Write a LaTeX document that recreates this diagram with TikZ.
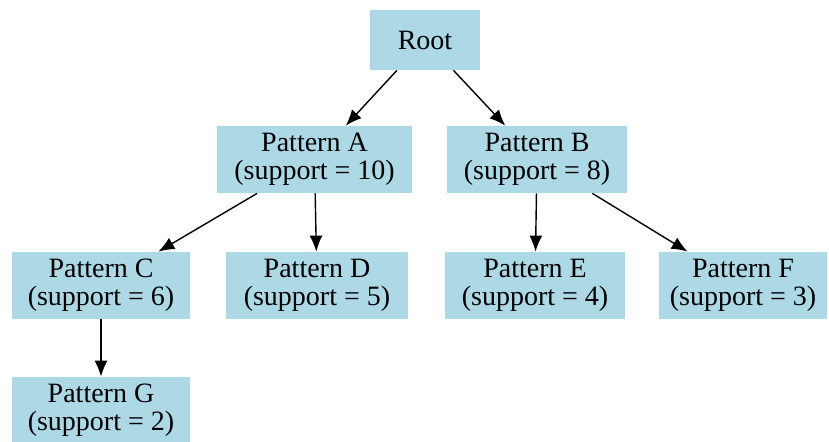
\documentclass[tikz,border=0pt]{standalone}
\usepackage{fontspec}
\setmainfont{Liberation Serif}
\usetikzlibrary{arrows.meta}

\definecolor{lightblue}{RGB}{173,216,230}

\begin{document}
\begin{tikzpicture}[x=0.5pt, y=-0.5pt,
    pattern/.style={fill=lightblue, inner sep=0pt, minimum height=33.5pt, align=center,
        font=\fontsize{14}{14}\selectfont},
    link/.style={-{Latex[length=8pt,width=6.5pt]}, line width=0.7pt, black}]
    \useasboundingbox (0,0) rectangle (829,441);

    % Nodes
    \node[pattern, minimum height=30pt, minimum width=55pt] (root) at (425,40) {Root};
    \node[pattern, minimum width=97.5pt] (a) at (314.5,159.5) {Pattern A\\(support = 10)};
    \node[pattern, minimum width=90pt] (b) at (537,159.5) {Pattern B\\(support = 8)};
    \node[pattern, minimum width=89pt] (c) at (101,285.5) {Pattern C\\(support = 6)};
    \node[pattern, minimum width=91pt] (d) at (317,285.5) {Pattern D\\(support = 5)};
    \node[pattern, minimum width=90pt] (e) at (535,285.5) {Pattern E\\(support = 4)};
    \node[pattern, minimum width=84pt] (f) at (743,285.5) {Pattern F\\(support = 3)};
    \node[pattern, minimum width=89pt] (g) at (101,410.5) {Pattern G\\(support = 2)};

    % Edges
    \draw[link] (root) -- (a);
    \draw[link] (root) -- (b);
    \draw[link] (a) -- (c);
    \draw[link] (a) -- (d);
    \draw[link] (b) -- (e);
    \draw[link] (b) -- (f);
    \draw[link] (c) -- (g);

\end{tikzpicture}
\end{document}
